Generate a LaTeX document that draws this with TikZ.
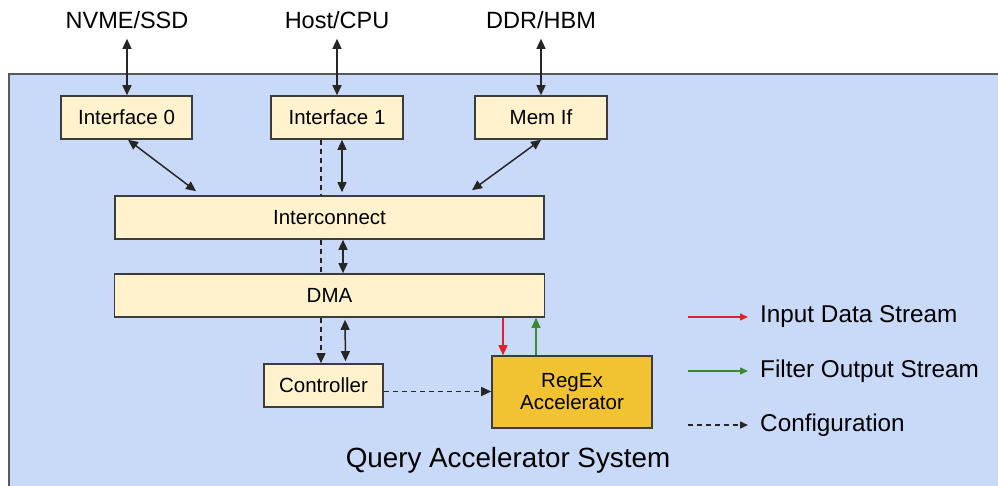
\documentclass[tikz,border=0pt]{standalone}
\usepackage{fontspec}
\setmainfont{Liberation Sans}
\usetikzlibrary{arrows.meta,calc}
\definecolor{bgblue}{HTML}{C9DAF8}
\definecolor{boxfill}{HTML}{FFF2CC}
\definecolor{regexfill}{HTML}{F1C232}
\definecolor{edgegray}{HTML}{3C3C3C}
\definecolor{redline}{HTML}{E0202A}
\definecolor{greenline}{HTML}{3A8A30}
\tikzset{
  tip/.tip={Triangle[length=10pt,width=9pt]},
  blk/.style={draw=edgegray, line width=1.6pt, fill=boxfill, inner sep=0pt,
    minimum height=43pt, font=\fontsize{20.5}{24}\selectfont, align=center},
  arr/.style={line width=1.5pt, draw=black!85, -tip},
  darr/.style={line width=1.5pt, draw=black!85, tip-tip},
  cfg/.style={line width=1.5pt, draw=black!85, dash pattern=on 5pt off 4pt, -tip},
  cfgline/.style={line width=1.5pt, draw=black!85, dash pattern=on 5pt off 4pt},
  toplbl/.style={font=\fontsize{23.5}{27}\selectfont, inner sep=0pt},
  leglbl/.style={font=\fontsize{24.3}{28}\selectfont, inner sep=0pt, anchor=west},
}
\begin{document}
\begin{tikzpicture}[x=1pt,y=-1pt]
\useasboundingbox (0,0) rectangle (998,486);
% background panel
\fill[bgblue] (9,74) rectangle (998,486);
\draw[gray!70!black, line width=2pt] (9,486) -- (9,74) -- (998,74);
% nodes
\node[toplbl] (nvme) at (127,20) {NVME/SSD};
\node[toplbl] (host) at (337,20) {Host/CPU};
\node[toplbl] (ddr) at (541,20) {DDR/HBM};
\node[blk, minimum width=131pt] (if0) at (126.5,117.5) {Interface 0};
\node[blk, minimum width=132pt] (if1) at (337,117.5) {Interface 1};
\node[blk, minimum width=132pt] (mem) at (541,117.5) {Mem If};
\node[blk, minimum width=429pt] (ic) at (329.5,217.5) {Interconnect};
\node[blk, minimum width=430pt] (dma) at (329.5,295.5) {DMA};
\node[blk, minimum width=119pt] (ctrl) at (323.5,385.5) {Controller};
\node[blk, fill=regexfill, minimum width=160pt, minimum height=72pt] (rx) at (572,392) {RegEx\\[-2pt]Accelerator};
\node[font=\fontsize{27.8}{32}\selectfont, inner sep=0pt] (title) at (508,460) {Query Accelerator System};
% top connections
\draw[darr] ($(nvme.south)+(0,10)$) -- (nvme.south |- if0.north);
\draw[darr] ($(host.south)+(0,10)$) -- (host.south |- if1.north);
\draw[darr] ($(ddr.south)+(0,10)$) -- (ddr.south |- mem.north);
% interfaces to interconnect
\draw[darr] ($(if0.south)+(1.5,0)$) -- ($(ic.north)+(-133.5,-4)$);
\draw[darr] ($(mem.south)+(0,0)$) -- ($(ic.north)+(142.5,-5)$);
\draw[darr] ($(if1.south)+(5,0)$) -- ($(ic.north)+(12.5,-3)$);
\draw[darr] ($(ic.south)+(13.5,0)$) -- ($(dma.north)+(13.5,0)$);
\draw[darr] ($(dma.south)+(15.5,2)$) -- ($(ctrl.north)+(22,-2)$);
% configuration dashed path
\draw[cfgline] ($(if1.south)+(-16,0)$) -- ($(ic.north)+(-8.5,0)$);
\draw[cfgline] ($(ic.south)+(-8.5,0)$) -- ($(dma.north)+(-8.5,0)$);
\draw[cfg] ($(dma.south)+(-8.5,0)$) -- ($(ctrl.north)+(-2.5,0)$);
\draw[cfg] ($(ctrl.east)+(0,6)$) -- ($(rx.west)+(0,-0.5)$);
% data streams
\draw[arr, draw=redline, -{Triangle[length=10pt,width=9pt,fill=redline]}] ($(dma.south)+(173.5,0)$) -- ($(rx.north)+(-69,0)$);
\draw[arr, draw=greenline, -{Triangle[length=10pt,width=9pt,fill=greenline]}] ($(rx.north)+(-36,0)$) -- ($(dma.south)+(206.5,0)$);
% legend
\coordinate (l1a) at (688,317);
\coordinate (l1b) at (748,317);
\coordinate (l2a) at (688,371);
\coordinate (l2b) at (748,371);
\coordinate (l3a) at (688,425);
\coordinate (l3b) at (748,425);
\draw[arr, draw=redline, -{Triangle[length=8pt,width=7pt,fill=redline]}] (l1a) -- (l1b);
\draw[arr, draw=greenline, -{Triangle[length=8pt,width=7pt,fill=greenline]}] (l2a) -- (l2b);
\draw[cfg, -{Triangle[length=8pt,width=7pt]}] (l3a) -- (l3b);
\node[leglbl] (t1) at (760,317) {Input Data Stream};
\node[leglbl] (t2) at (760,371) {Filter Output Stream};
\node[leglbl] (t3) at (760,425) {Configuration};
\end{tikzpicture}
\end{document}
